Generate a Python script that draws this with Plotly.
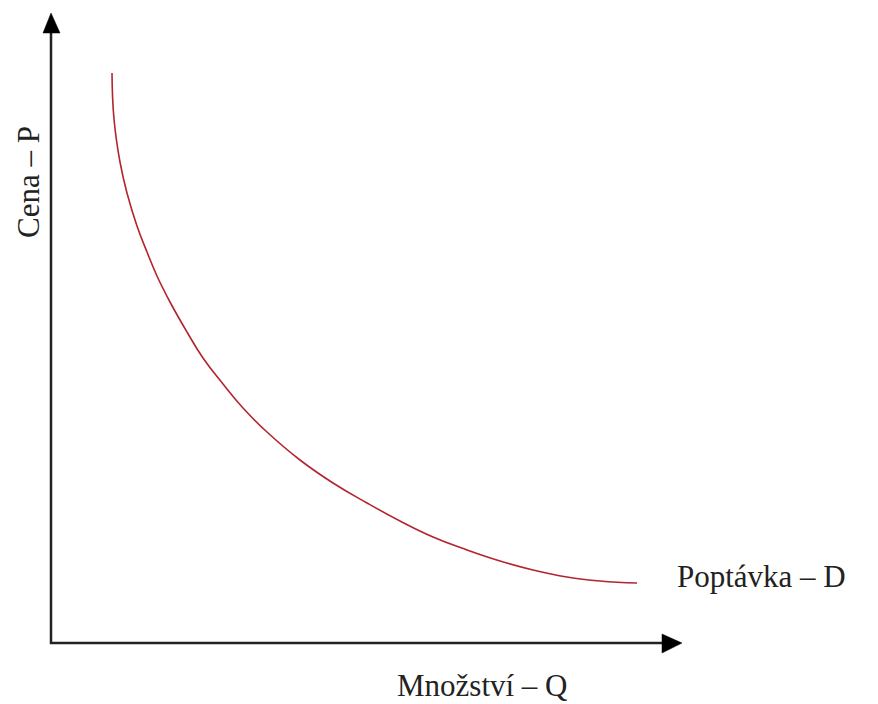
import plotly.graph_objects as go

# Demand curve (quantity, price in arbitrary units)
quantity = [61, 63, 69, 76, 86, 96, 106, 119, 136, 152, 172, 192, 216, 249, 282, 316, 349, 382, 416, 449, 482, 516, 549, 586]
price = [570, 524, 481, 450, 417, 391, 367, 341, 311, 285, 259, 235, 211, 183, 160, 140, 122, 106, 93, 82, 73, 66, 62, 60]

x_label = "Množství – Q"
y_label = "Cena – P"
curve_label = "Poptávka – D"

W, H = 878, 704
L, R, T, B = 51, 682, 13, 643  # plot area in pixels

def px(xp):
    return (xp - L) / (R - L)

def py(yp):
    return (B - yp) / (B - T)

fig = go.Figure()
fig.add_trace(go.Scatter(
    x=quantity, y=price, mode="lines",
    line=dict(color="#b3242e", width=1.6, shape="spline", smoothing=1.3),
    showlegend=False, hoverinfo="skip",
))

axis_color = "#222222"
fig.update_layout(
    width=W, height=H,
    margin=dict(l=L, r=W - R, t=T, b=H - B, pad=0),
    paper_bgcolor="white", plot_bgcolor="white",
    xaxis=dict(range=[0, R - L], showgrid=False, zeroline=False, showticklabels=False,
               ticks="", showline=False, fixedrange=True),
    yaxis=dict(range=[0, B - T], showgrid=False, zeroline=False, showticklabels=False,
               ticks="", showline=False, fixedrange=True),
    font=dict(family="Liberation Serif, Times New Roman, serif", color="#222222"),
)

# axis lines
fig.add_shape(type="line", xref="paper", yref="paper", x0=px(51), y0=py(644), x1=px(51), y1=py(28),
              line=dict(color=axis_color, width=2.5))
fig.add_shape(type="line", xref="paper", yref="paper", x0=px(50), y0=py(643), x1=px(666), y1=py(643),
              line=dict(color=axis_color, width=2.5))
# arrowheads
fig.add_shape(type="path", xref="paper", yref="paper",
              path=f"M {px(51)} {py(13)} L {px(43)} {py(33)} L {px(60)} {py(33)} Z",
              fillcolor="black", line=dict(color="black", width=0.5))
fig.add_shape(type="path", xref="paper", yref="paper",
              path=f"M {px(682)} {py(643)} L {px(662)} {py(634)} L {px(662)} {py(653)} Z",
              fillcolor="black", line=dict(color="black", width=0.5))

fsize = 31
fig.add_annotation(text=x_label, xref="paper", yref="paper", x=px(482), y=py(685),
                   xanchor="center", yanchor="middle", showarrow=False, font=dict(size=fsize))
fig.add_annotation(text=curve_label, xref="paper", yref="paper", x=px(675), y=py(576),
                   xanchor="left", yanchor="middle", showarrow=False, font=dict(size=fsize))
fig.add_annotation(text=y_label, xref="paper", yref="paper", x=px(28), y=py(182),
                   xanchor="center", yanchor="middle", showarrow=False, textangle=-90,
                   font=dict(size=fsize))

fig.write_html("out.html", config={"displayModeBar": False, "staticPlot": True},
               post_script="document.body.style.margin='0px';document.body.style.overflow='hidden';")
